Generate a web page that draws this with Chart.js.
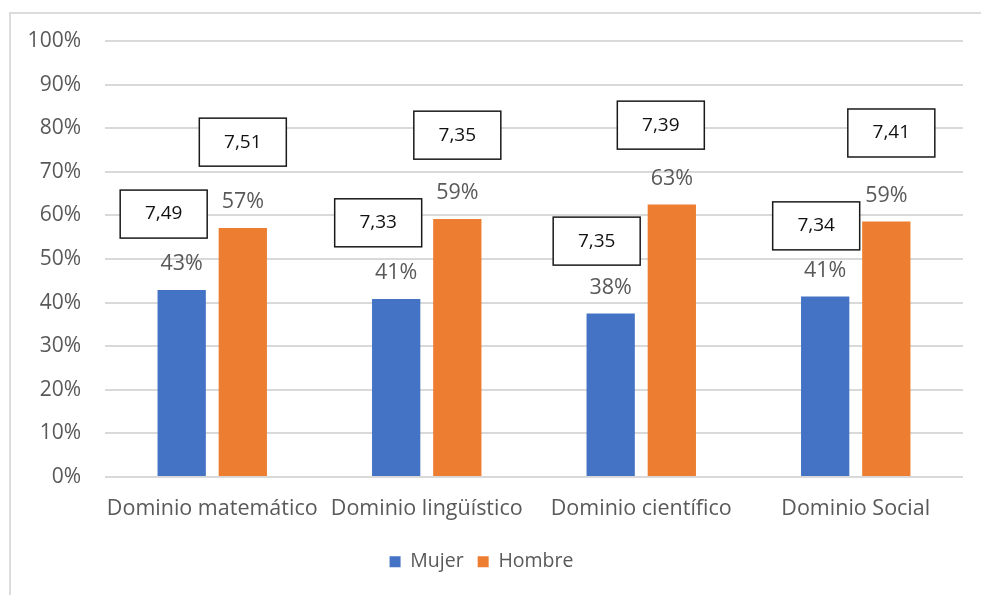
<!DOCTYPE html>
<html><head><meta charset="utf-8">
<script src="https://cdn.jsdelivr.net/npm/chart.js@4"></script>
<style>
html,body{margin:0;padding:0;background:#fff;overflow:hidden;width:981px;height:595px;}
#frame{position:absolute;left:9px;top:12px;width:1000px;height:600px;border:2px solid #dcdcdc;box-sizing:border-box;}
canvas{position:absolute;left:0;top:0;}
</style></head><body>
<div id="frame"></div>
<canvas id="c" width="981" height="595"></canvas>
<script>
const categories = ['Dominio matemático', 'Dominio lingüístico', 'Dominio científico', 'Dominio Social'];
const seriesNames = ['Mujer', 'Hombre'];
const mujer = [42.9, 40.8, 37.5, 41.4];
const hombre = [57.1, 59.2, 62.5, 58.6];
const mujerScore = [7.49, 7.33, 7.35, 7.34];
const hombreScore = [7.51, 7.35, 7.39, 7.41];
const yTicks = [0, 10, 20, 30, 40, 50, 60, 70, 80, 90, 100];

// layout of the score boxes (position only, not data)
const boxLayout = [
  { dx: [-18, -18, -14, -9], y: [60.3, 58.3, 54.1, 57.6] },
  { dx: [0, 0, -11, 5],      y: [76.8, 78.4, 80.7, 78.9] }
];
const scores = [mujerScore, hombreScore];

const FONT = '"Open Sans"';
const GRAY = '#595959';

const labelsPlugin = {
  id: 'labelsBoxes',
  afterDatasetsDraw(chart) {
    const ctx = chart.ctx;
    const ys = chart.scales.y;
    ctx.save();
    chart.data.datasets.forEach((ds, di) => {
      const meta = chart.getDatasetMeta(di);
      meta.data.forEach((bar, i) => {
        const bx = bar.x + boxLayout[di].dx[i];
        const by = ys.getPixelForValue(boxLayout[di].y[i]);
        const w = 87, h = 48;
        ctx.fillStyle = '#fff';
        ctx.fillRect(bx - w / 2, by - h / 2, w, h);
        ctx.strokeStyle = '#1a1a1a';
        ctx.lineWidth = 1.5;
        ctx.strokeRect(bx - w / 2, by - h / 2, w, h);
        ctx.fillStyle = '#111';
        ctx.font = '19px ' + FONT;
        ctx.textAlign = 'center';
        ctx.textBaseline = 'middle';
        ctx.fillText(scores[di][i].toFixed(2).replace('.', ','), bx, by);
        ctx.fillStyle = GRAY;
        ctx.font = '21.5px ' + FONT;
        ctx.fillText(Math.round(ds.data[i]) + '%', bar.x, bar.y - 26);
      });
    });
    ctx.restore();
  }
};

new Chart(document.getElementById('c'), {
  type: 'bar',
  data: {
    labels: categories,
    datasets: [
      { label: seriesNames[0], data: mujer, backgroundColor: '#4472C4', categoryPercentage: 0.57, barPercentage: 0.79 },
      { label: seriesNames[1], data: hombre, backgroundColor: '#ED7D31', categoryPercentage: 0.57, barPercentage: 0.79 }
    ]
  },
  options: {
    responsive: false,
    animation: false,
    devicePixelRatio: 1,
    layout: { padding: { left: 0, right: 18, top: 41, bottom: 13.5 } },
    scales: {
      x: {
        grid: { display: false },
        border: { display: false },
        ticks: { color: GRAY, font: { family: FONT, size: 21.5 }, padding: 11, maxRotation: 0, autoSkip: false },
        afterFit(s) { s.height = 61; }
      },
      y: {
        min: 0, max: 100,
        afterBuildTicks(s) { s.ticks = yTicks.map(v => ({ value: v })); },
        ticks: { color: GRAY, font: { family: FONT, size: 21 }, padding: 24, callback: v => v + '%' },
        grid: { color: '#d9d9d9', lineWidth: 2, drawTicks: false },
        border: { display: false },
        afterFit(s) { s.width = 105; }
      }
    },
    plugins: {
      legend: {
        position: 'bottom',
        labels: { boxWidth: 11, boxHeight: 11, color: GRAY, font: { family: FONT, size: 19.5 }, padding: 14 }
      },
      tooltip: { enabled: false }
    }
  },
  plugins: [labelsPlugin]
});
</script>
</body></html>
